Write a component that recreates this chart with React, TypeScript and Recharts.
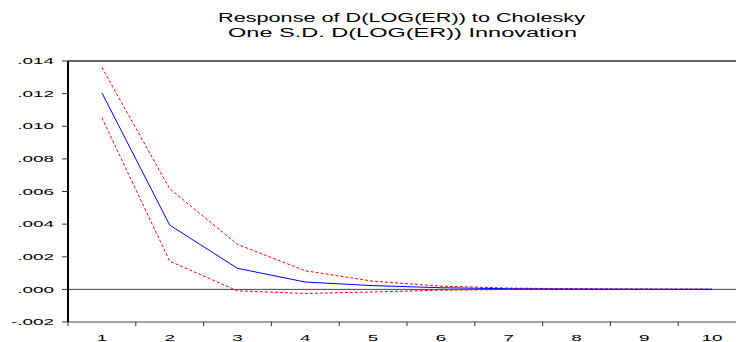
import React from "react";
import { LineChart, Line, XAxis, YAxis, ReferenceLine } from "recharts";

const periods = [1, 2, 3, 4, 5, 6, 7, 8, 9, 10];
const responseMid = [0.01205, 0.00394, 0.00129, 0.00045, 0.00023, 0.0001, 0.00004, 0.00002, 0.00001, 0.000005];
const upperBand = [0.01361, 0.00617, 0.00276, 0.00114, 0.0005, 0.0002, 0.00008, 0.00004, 0.00002, 0.00001];
const lowerBand = [0.01052, 0.00173, -0.00009, -0.00025, -0.00016, -0.00005, -0.00001, 0, 0, 0];
const yTicks = [-0.002, 0, 0.002, 0.004, 0.006, 0.008, 0.01, 0.012, 0.014];
const xTicks = [0.5, 1, 1.5, 2, 2.5, 3, 3.5, 4, 4.5, 5, 5.5, 6, 6.5, 7, 7.5, 8, 8.5, 9, 9.5, 10, 10.5];
const titleLines = ["Response of D(LOG(ER)) to Cholesky", "One S.D. D(LOG(ER)) Innovation"];

const data = periods.map((p, i) => ({
  period: p,
  mid: responseMid[i],
  upper: upperBand[i],
  lower: lowerBand[i],
}));

const FONT = "'Liberation Sans', Arial, sans-serif";
const SX = 2.1;

const fmtY = (v: number) => {
  const s = Math.abs(v).toFixed(3).replace(/^0/, "");
  return v < 0 ? "-" + s : s;
};

const YTick = (props: any) => {
  const { x, y, payload } = props;
  return (
    <text
      transform={`translate(${x},${y}) scale(${SX},1)`}
      textAnchor="end"
      dy="0.36em"
      fontFamily={FONT}
      fontSize={9}
      fill="#000"
    >
      {fmtY(payload.value)}
    </text>
  );
};

const XTick = (props: any) => {
  const { x, y, payload } = props;
  const v = payload.value;
  if (Number.isInteger(v)) {
    return (
      <text
        transform={`translate(${x},${y + 18.5}) scale(${SX},1)`}
        textAnchor="middle"
        fontFamily={FONT}
        fontSize={9}
        fill="#000"
      >
        {v}
      </text>
    );
  }
  return <line x1={x} y1={y} x2={x} y2={y + 4} stroke="#333" strokeWidth={1} />;
};

export default function App() {
  return (
    <div
      style={{
        position: "absolute",
        left: 0,
        top: 0,
        width: 736,
        height: 342,
        overflow: "hidden",
        background: "#fff",
      }}
    >
      <LineChart
        width={760}
        height={342}
        data={data}
        margin={{ top: 61, right: 14, left: 0, bottom: 0 }}
      >
        <XAxis
          dataKey="period"
          type="number"
          domain={[0.5, 10.5]}
          ticks={xTicks}
          interval={0}
          tick={<XTick />}
          tickLine={false}
          tickSize={0}
          tickMargin={0}
          height={20}
          axisLine={{ stroke: "#444", strokeWidth: 1 }}
        />
        <YAxis
          type="number"
          domain={[-0.002, 0.014]}
          ticks={yTicks}
          interval={0}
          width={68}
          tick={<YTick />}
          tickSize={6}
          tickMargin={8}
          tickLine={{ stroke: "#333" }}
          axisLine={{ stroke: "#000", strokeWidth: 2 }}
        />
        <ReferenceLine y={0.014} stroke="#666" strokeWidth={2} ifOverflow="visible" />
        <ReferenceLine y={0} stroke="#444" strokeWidth={1} />
        <Line
          dataKey="upper"
          stroke="#ff0000"
          strokeWidth={1}
          strokeDasharray="3 2"
          dot={false}
          isAnimationActive={false}
        />
        <Line
          dataKey="lower"
          stroke="#ff0000"
          strokeWidth={1}
          strokeDasharray="3 2"
          dot={false}
          isAnimationActive={false}
        />
        <Line
          dataKey="mid"
          stroke="#0000ff"
          strokeWidth={1}
          dot={false}
          isAnimationActive={false}
        />
      </LineChart>
      <svg
        width={736}
        height={50}
        style={{ position: "absolute", left: 0, top: 0, pointerEvents: "none" }}
      >
        <text
          x={218}
          y={21.7}
          textLength={367}
          lengthAdjust="spacingAndGlyphs"
          fontFamily={FONT}
          fontSize={12}
          fill="#000"
        >
          {titleLines[0]}
        </text>
        <text
          x={228}
          y={36.7}
          textLength={349}
          lengthAdjust="spacingAndGlyphs"
          fontFamily={FONT}
          fontSize={12}
          fill="#000"
        >
          {titleLines[1]}
        </text>
      </svg>
    </div>
  );
}
